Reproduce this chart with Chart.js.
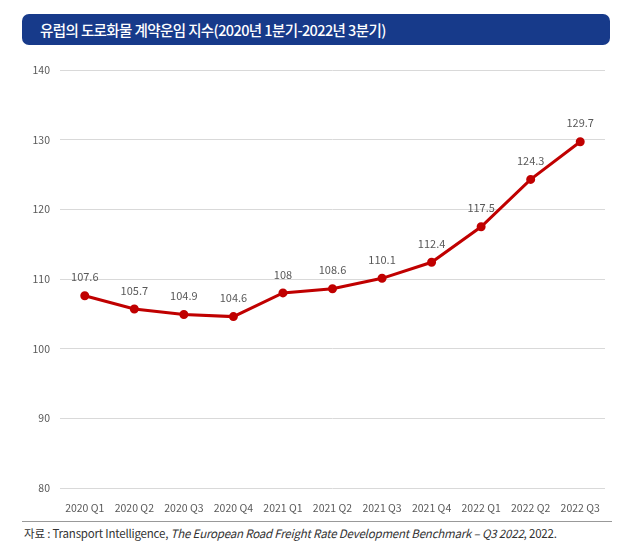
<!DOCTYPE html>
<html>
<head>
<meta charset="utf-8">
<script src="https://cdn.jsdelivr.net/npm/chart.js@4"></script>
<style>
  body { margin: 0; background: #fff; font-family: "Noto Sans CJK KR", sans-serif; }
  #wrap { position: relative; width: 630px; height: 555px; }
  #titulo {
    position: absolute; left: 22px; top: 14px; width: 588px; height: 31px;
    background: #173a8a; border-radius: 7px; color: #fff;
    font-size: 14.5px; font-weight: 500; line-height: 31px; padding-left: 18px; box-sizing: border-box;
    letter-spacing: -0.6px;
  }
  #grafico { position: absolute; left: 0; top: 50px; width: 612px; height: 470px; }
  #fonte {
    position: absolute; left: 22px; top: 521px; width: 588px; border-top: 1px solid #999;
    font-size: 11.5px; color: #333; padding: 3px 0 0 2px; letter-spacing: -0.2px;
  }
</style>
</head>
<body>
<div id="wrap">
  <div id="titulo">유럽의 도로화물 계약운임 지수(2020년 1분기-2022년 3분기)</div>
  <div id="grafico"><canvas id="indiceChart"></canvas></div>
  <div id="fonte">자료 : Transport Intelligence, <i>The European Road Freight Rate Development Benchmark – Q3 2022</i>, 2022.</div>
</div>
<script>
const trimestres = ['2020 Q1', '2020 Q2', '2020 Q3', '2020 Q4', '2021 Q1', '2021 Q2',
                    '2021 Q3', '2021 Q4', '2022 Q1', '2022 Q2', '2022 Q3'];
const indice = [107.6, 105.7, 104.9, 104.6, 108, 108.6, 110.1, 112.4, 117.5, 124.3, 129.7];
const eixoMin = 80;
const eixoMax = 140;
const eixoPasso = 10;

// rotulos de valor acima dos pontos (sem plugin externo)
const rotulosValor = {
    id: 'rotulosValor',
    afterDatasetsDraw(chart) {
        const ctx = chart.ctx;
        const meta = chart.getDatasetMeta(0);
        ctx.save();
        ctx.font = '11px "Noto Sans CJK KR", sans-serif';
        ctx.fillStyle = '#595959';
        ctx.textAlign = 'center';
        ctx.textBaseline = 'bottom';
        meta.data.forEach((pt, i) => {
            ctx.fillText(String(indice[i]), pt.x, pt.y - 13);
        });
        ctx.restore();
    }
};

let chart;

function inicializarGrafico() {
    const ctx = document.getElementById('indiceChart').getContext('2d');
    chart = new Chart(ctx, {
        type: 'line',
        data: {
            labels: trimestres,
            datasets: [{
                label: '지수',
                data: indice,
                borderColor: '#c00000',
                backgroundColor: '#c00000',
                borderWidth: 3,
                pointRadius: 3,
                pointHoverRadius: 3,
                fill: false,
                tension: 0
            }]
        },
        options: {
            responsive: true,
            maintainAspectRatio: false,
            animation: false,
            layout: { padding: { top: 20, right: 7, left: 0, bottom: 0 } },
            plugins: {
                legend: { display: false },
                tooltip: { enabled: false }
            },
            scales: {
                x: {
                    offset: true,
                    grid: { display: false },
                    border: { display: false },
                    ticks: {
                        color: '#595959',
                        font: { family: '"Noto Sans CJK KR", sans-serif', size: 10.5 },
                        maxRotation: 0,
                        autoSkip: false,
                        padding: 6
                    },
                    afterFit(scale) { scale.height = 32; }
                },
                y: {
                    min: eixoMin,
                    max: eixoMax,
                    ticks: {
                        stepSize: eixoPasso,
                        color: '#595959',
                        font: { family: '"Noto Sans CJK KR", sans-serif', size: 10.5 },
                        padding: 10
                    },
                    grid: { color: '#d9d9d9', drawTicks: false },
                    border: { display: false },
                    afterFit(scale) { scale.width = 60; }
                }
            }
        },
        plugins: [rotulosValor]
    });
}

document.addEventListener('DOMContentLoaded', inicializarGrafico);
</script>
</body>
</html>
